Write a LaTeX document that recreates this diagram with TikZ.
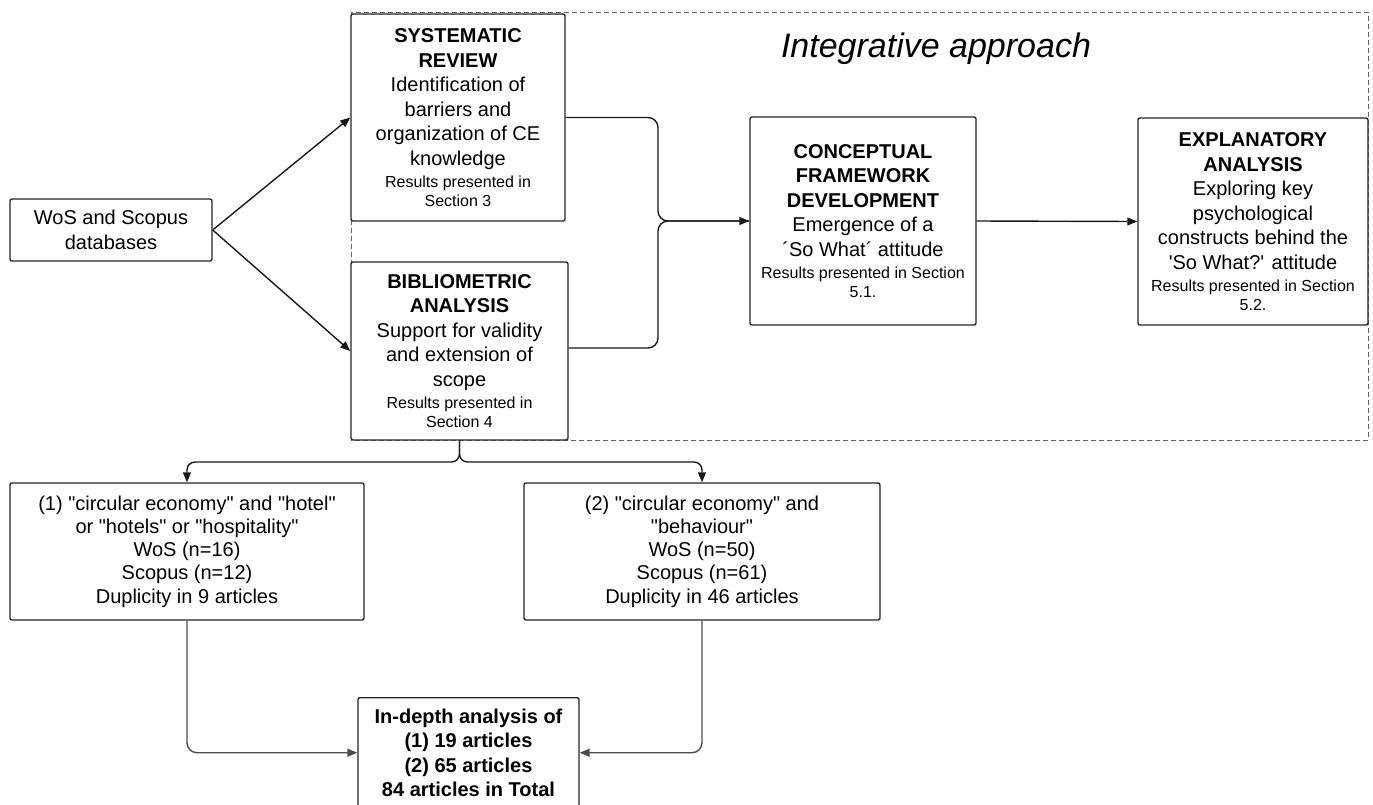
\documentclass[tikz,border=0pt]{standalone}
\usepackage{fontspec}
\newfontfamily\arial{Liberation Sans}
\usetikzlibrary{arrows.meta,calc}
\newcommand\bodyfnt{\arial\fontsize{20}{24.5}\selectfont}
\newcommand\lowfnt{\arial\fontsize{20}{23.3}\selectfont}
\newcommand\resfnt{\fontsize{16}{19}\selectfont}
\begin{document}
\begin{tikzpicture}[x=1pt,y=-1pt,
  box/.style={draw=black!85, line width=1.4pt, rounded corners=2pt, fill=white, align=flush center, inner sep=3pt, font=\bodyfnt},
  conn/.style={draw=black!90, line width=1.4pt},
  arr/.style={conn, -{Triangle[length=10pt,width=8pt]}},
  garr/.style={draw=black!70, line width=1.4pt, -{Triangle[length=10pt,width=8pt]}},
  dashbox/.style={draw=black!60, line width=1pt, dash pattern=on 5pt off 3pt}]
\useasboundingbox (0,0) rectangle (1373,804);
\draw[dashbox] (351,12) rectangle (1368,440);
\node[font=\arial\fontsize{34}{40}\selectfont\itshape] (title) at (936,49) {Integrative approach};

\node[box, minimum width=202pt, minimum height=62pt, text width=194pt] (wos) at (111,230)
  {WoS and Scopus\\databases};

\node[box, minimum width=214pt, minimum height=207pt, text width=206pt] (sr) at (458,117.5)
  {\textbf{SYSTEMATIC\\REVIEW}\\Identification of\\barriers and\\organization of CE\\knowledge\par
   \vspace{3pt}\resfnt Results presented in\\Section 3\par};

\node[box, minimum width=217pt, minimum height=178pt, text width=209pt] (bib) at (459.5,351)
  {\textbf{BIBLIOMETRIC\\ANALYSIS}\\Support for validity\\and extension of\\scope\par
   \vspace{3pt}\resfnt Results presented in\\Section 4\par};

\node[box, minimum width=226pt, minimum height=208pt, text width=220pt] (cf) at (863,221)
  {\textbf{CONCEPTUAL\\FRAMEWORK\\DEVELOPMENT}\\Emergence of a\\´So What´ attitude\par
   \vspace{3pt}\resfnt Results presented in Section\\5.1.\par};

\node[box, minimum width=230pt, minimum height=207pt, text width=224pt] (ea) at (1253,221.5)
  {\textbf{EXPLANATORY\\ANALYSIS}\\Exploring key\\psychological\\constructs behind the\\'So What?' attitude\par
   \vspace{3pt}\resfnt Results presented in Section\\5.2.\par};

\node[box, font=\lowfnt, minimum width=354pt, minimum height=137pt, text width=346pt] (b1) at (187,551.5)
  {(1) "circular economy" and "hotel"\\or "hotels" or "hospitality"\\WoS (n=16)\\Scopus (n=12)\\Duplicity in 9 articles};

\node[box, font=\lowfnt, minimum width=356pt, minimum height=137pt, text width=348pt] (b2) at (702,551.5)
  {(2) "circular economy" and\\"behaviour"\\WoS (n=50)\\Scopus (n=61)\\Duplicity in 46 articles};

\node[box, minimum width=221pt, minimum height=110pt, text width=215pt, anchor=north] (ind) at (468.5,697)
  {\bfseries In-depth analysis of\\(1) 19 articles\\(2) 65 articles\\84 articles in Total};

% connectors
\draw[arr] (wos.east) -- (sr.west);
\draw[arr] (wos.east) -- (bib.west);
\coordinate (j) at (658,221);
\draw[conn, rounded corners=10pt] (sr.east) -| (j) -- (cf.west);
\draw[arr, rounded corners=10pt] ([yshift=3pt]bib.east) -| (j) -- (cf.west);
\draw[arr] (cf.east) -- (ea.west);
\coordinate (br) at (459.5,462);
\draw[arr, rounded corners=8pt] (bib.south) -- (br) -| (b1.north);
\draw[arr, rounded corners=8pt] (bib.south) -- (br) -| (b2.north);
\draw[garr, rounded corners=10pt] (b1.south) |- (ind.west);
\draw[garr, rounded corners=10pt] (b2.south) |- (ind.east);
\end{tikzpicture}
\end{document}
